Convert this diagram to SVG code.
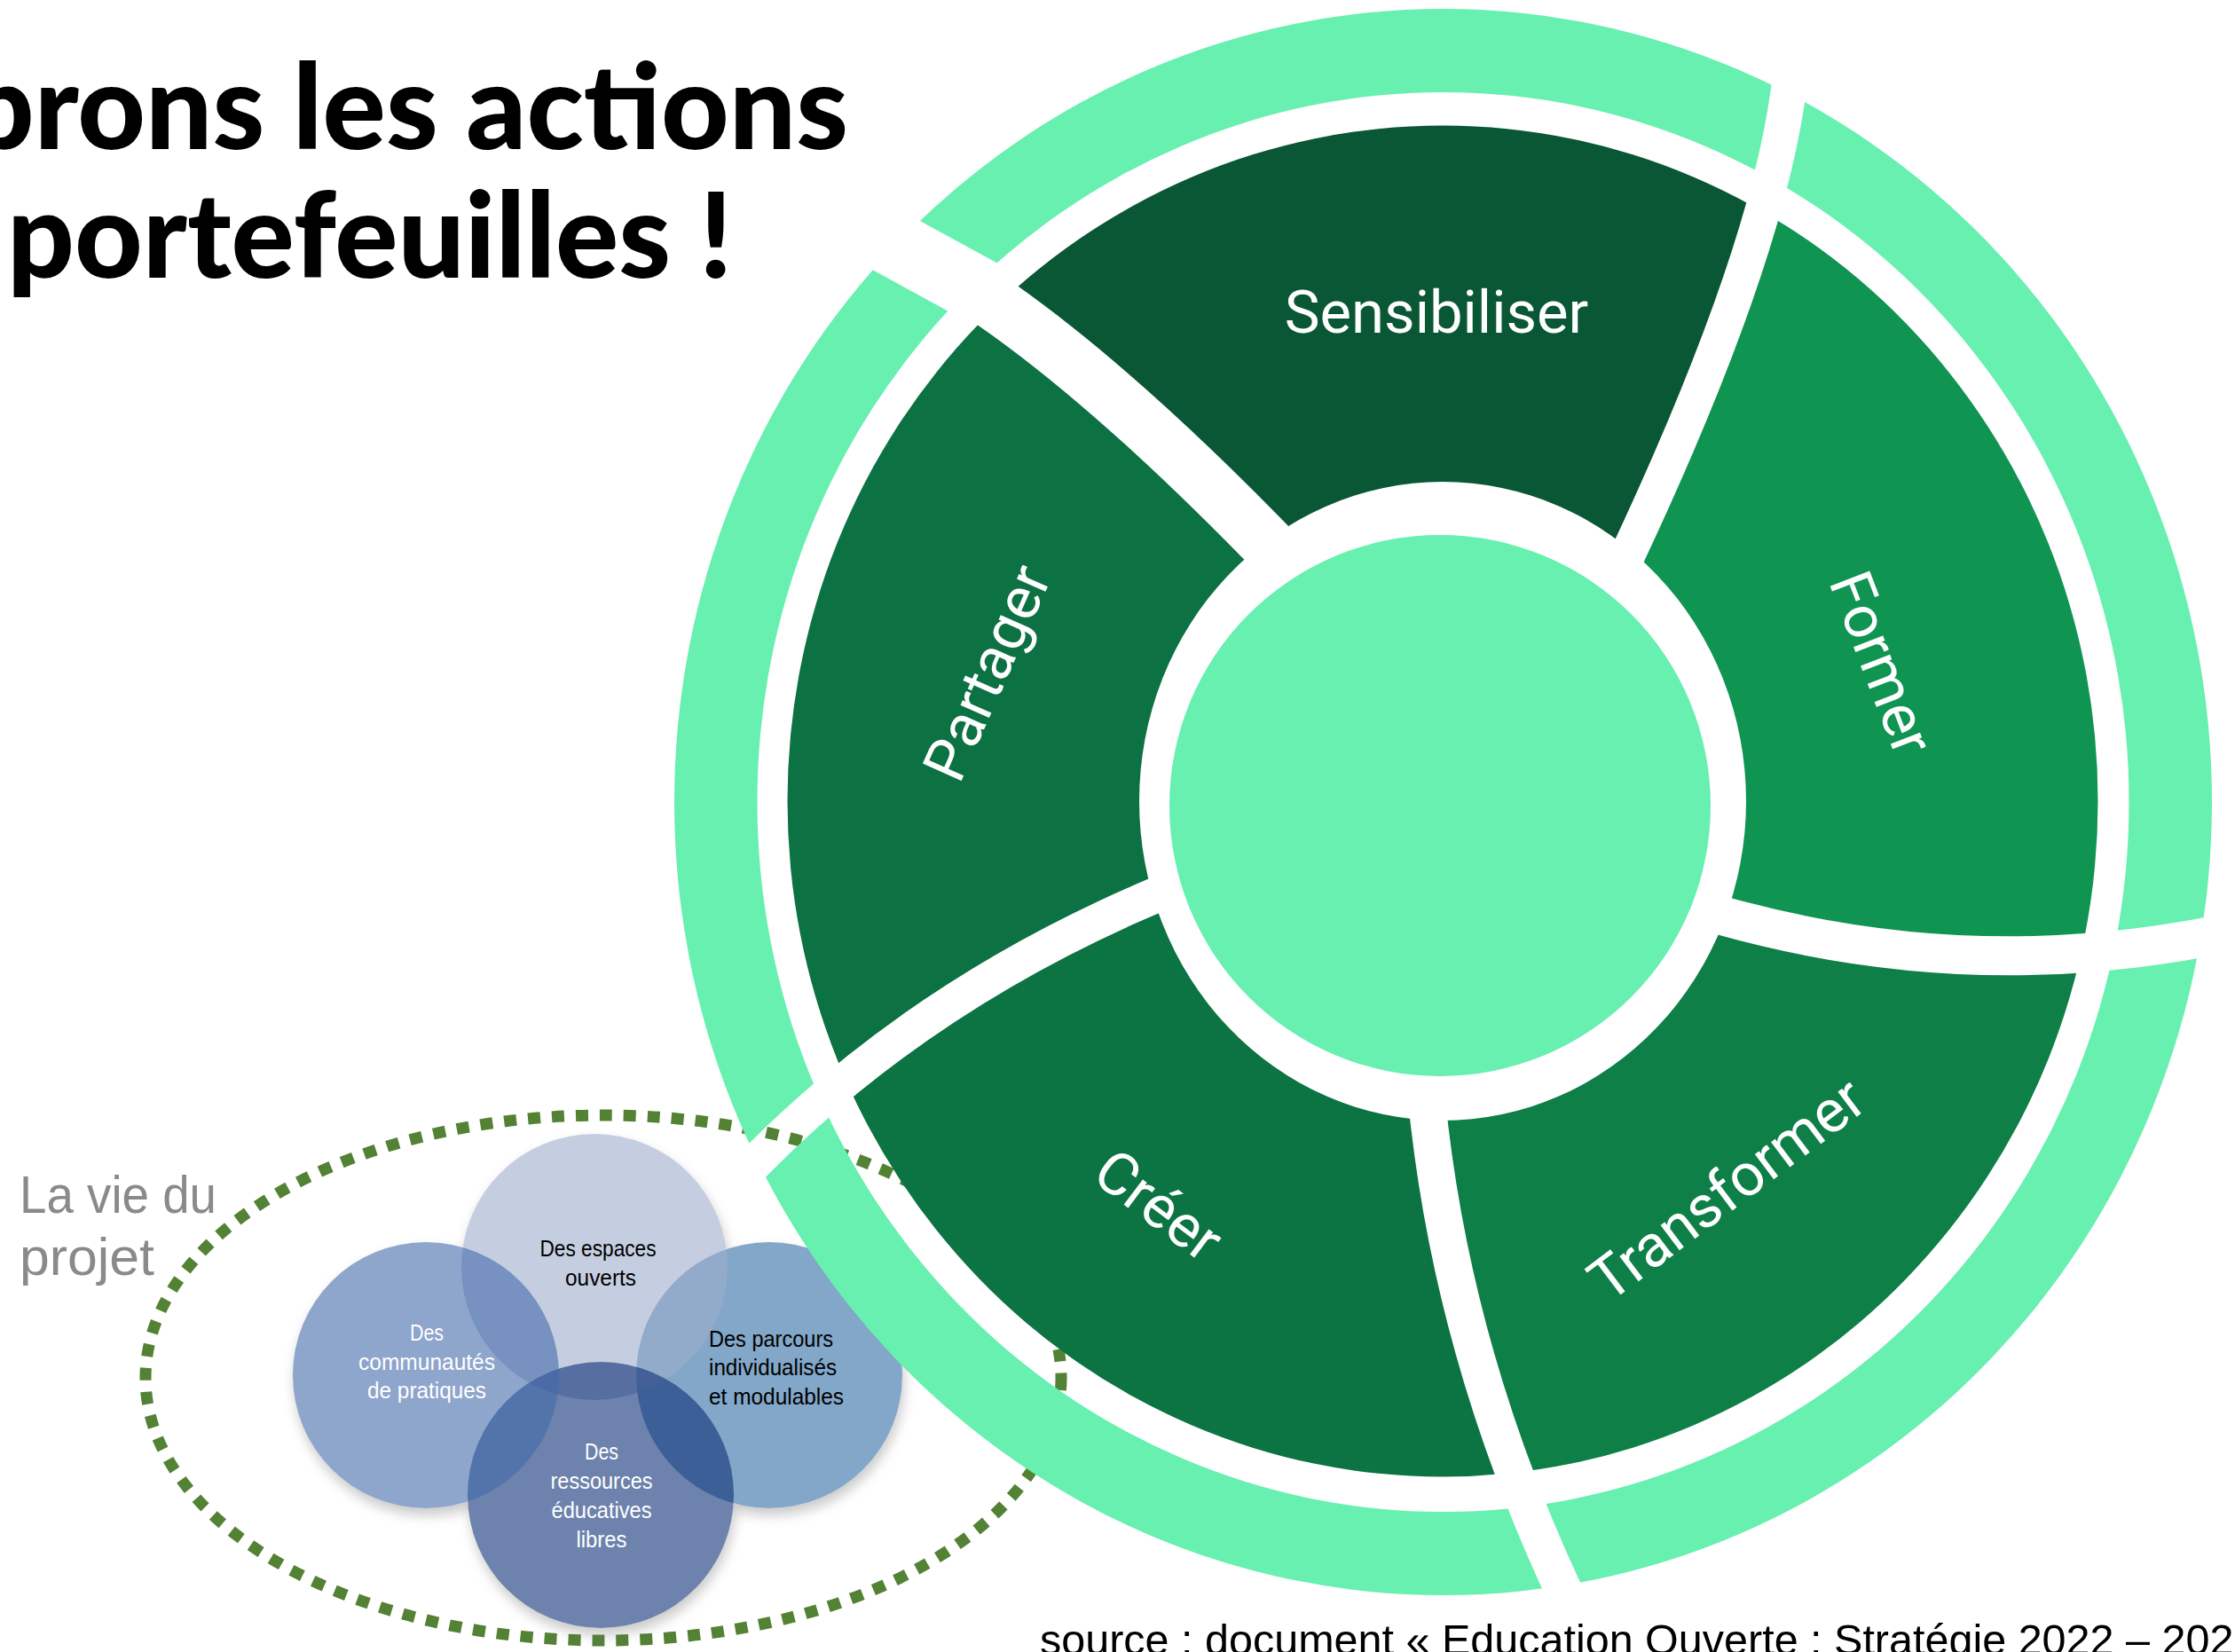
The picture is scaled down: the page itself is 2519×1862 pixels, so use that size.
<svg xmlns="http://www.w3.org/2000/svg" width="2519" height="1862" viewBox="0 0 2519 1862">
<style>
.seg{font-family:Roboto,'Liberation Sans',sans-serif;font-size:67px;fill:#fff;text-anchor:middle}
.title{font-family:Lato,'Liberation Sans',sans-serif;font-weight:900;font-size:133px;fill:#000}
.venn{font-family:'Liberation Sans',sans-serif;font-size:25px;text-anchor:middle}
.vennl{font-family:'Liberation Sans',sans-serif;font-size:25px}
.side{font-family:'Liberation Sans',sans-serif;font-size:60px;fill:#8a8a8a}
.src{font-family:'Liberation Sans',sans-serif;font-size:48.5px;fill:#000}
.gap{fill:none;stroke:#000;stroke-linejoin:round;stroke-linecap:butt}
.light{fill:#67F0B0}
</style>
<defs>
<mask id="gapMask" maskUnits="userSpaceOnUse" x="0" y="0" width="2519" height="1862">
<rect x="0" y="0" width="2519" height="1862" fill="#fff"/>
<path class="gap" stroke-width="40" d="M1815,672 L1835,624 Q2008,255 2020,60 L2025,-40"/>
<path class="gap" stroke-width="44" d="M1900,1020 L1944,1033 Q2250,1118 2560,1040 L2600,1030"/>
<path class="gap" stroke-width="42" d="M1606,1200 L1608,1240 Q1639,1552 1790,1850 L1810,1890"/>
<path class="gap" stroke-width="40" d="M1340,993 L1300,1010 Q1000.6,1137 800,1365 L770,1399"/>
<path class="gap" stroke-width="62" d="M1470,655 L1440,625 Q1174.7,350.7 1000,271 L880,216"/>
<path class="gap" stroke-width="74" d="M1108,330 L1000,271 L880,216"/>
</mask>
<mask id="outsideVenn" maskUnits="userSpaceOnUse" x="0" y="0" width="2519" height="1862">
<rect x="0" y="0" width="2519" height="1862" fill="#fff"/>
<circle cx="867" cy="1550" r="150" fill="#000"/>
<circle cx="670" cy="1428" r="150" fill="#000"/>
<circle cx="677" cy="1685" r="150" fill="#000"/>
<circle cx="480" cy="1550" r="150" fill="#000"/>
</mask>
<filter id="soft" x="-20%" y="-20%" width="140%" height="140%">
<feGaussianBlur stdDeviation="7"/>
</filter>
<clipPath id="darkClip">
<path clip-rule="evenodd" d="M887.5,903 A738.5,761.5 0 1 0 2364.5,903 A738.5,761.5 0 1 0 887.5,903 Z M1284,903 A342,360 0 1 0 1968,903 A342,360 0 1 0 1284,903 Z"/>
</clipPath>
</defs>
<rect width="2519" height="1862" fill="#fff"/>

<g id="title">
<text class="title" x="956" y="168" text-anchor="end">prons les actions</text>
<text class="title" x="8" y="313">portefeuilles !</text>
</g>

<g id="project-life">
<ellipse cx="680" cy="1553" rx="516" ry="296" fill="none" stroke="#548235" stroke-width="13" stroke-dasharray="14 13"/>
<text class="side" x="22" y="1367" textLength="222" lengthAdjust="spacingAndGlyphs">La vie du</text>
<text class="side" x="22" y="1437" textLength="152" lengthAdjust="spacingAndGlyphs">projet</text>
</g>

<g id="venn-shadow" mask="url(#outsideVenn)">
<g filter="url(#soft)" fill="#666" opacity="0.35">
<circle cx="869" cy="1558" r="150"/>
<circle cx="672" cy="1436" r="150"/>
<circle cx="679" cy="1693" r="150"/>
<circle cx="482" cy="1558" r="150"/>
</g>
</g>
<g id="venn-parcours">
<circle cx="867" cy="1550" r="150" fill="#2F6CA5" fill-opacity="0.6"/>
</g>
<g id="venn-espaces">
<circle cx="670" cy="1428" r="150" fill="#9EADCB" fill-opacity="0.6"/>
</g>
<g id="venn-ressources">
<circle cx="677" cy="1685" r="150" fill="#0C2F75" fill-opacity="0.6"/>
</g>
<g id="venn-communautes">
<circle cx="480" cy="1550" r="150" fill="#4369AA" fill-opacity="0.6"/>
</g>
<g id="venn-labels">
<text class="venn" x="674" y="1416" fill="#000" textLength="131" lengthAdjust="spacingAndGlyphs">Des espaces</text>
<text class="venn" x="677" y="1449" fill="#000" textLength="80" lengthAdjust="spacingAndGlyphs">ouverts</text>
<text class="venn" x="481" y="1511" fill="#fff" textLength="38" lengthAdjust="spacingAndGlyphs">Des</text>
<text class="venn" x="481" y="1544" fill="#fff" textLength="154" lengthAdjust="spacingAndGlyphs">communautés</text>
<text class="venn" x="481" y="1576" fill="#fff" textLength="134" lengthAdjust="spacingAndGlyphs">de pratiques</text>
<text class="vennl" x="799" y="1518" fill="#000" textLength="140" lengthAdjust="spacingAndGlyphs">Des parcours</text>
<text class="vennl" x="799" y="1550" fill="#000" textLength="144" lengthAdjust="spacingAndGlyphs">individualisés</text>
<text class="vennl" x="799" y="1583" fill="#000" textLength="152" lengthAdjust="spacingAndGlyphs">et modulables</text>
<text class="venn" x="678" y="1645" fill="#fff" textLength="38" lengthAdjust="spacingAndGlyphs">Des</text>
<text class="venn" x="678" y="1678" fill="#fff" textLength="115" lengthAdjust="spacingAndGlyphs">ressources</text>
<text class="venn" x="678" y="1711" fill="#fff" textLength="113" lengthAdjust="spacingAndGlyphs">éducatives</text>
<text class="venn" x="678" y="1744" fill="#fff" textLength="57" lengthAdjust="spacingAndGlyphs">libres</text>
</g>

<g id="outer-ring">
<path class="light" fill-rule="evenodd" mask="url(#gapMask)" d="M760,904 A866.5,894 0 1 0 2493,904 A866.5,894 0 1 0 760,904 Z M853.5,904 A773,800 0 1 0 2399.5,904 A773,800 0 1 0 853.5,904 Z"/>
</g>

<g id="seg-sensibiliser">
<path fill="#095735" clip-path="url(#darkClip)" mask="url(#gapMask)" d="M1626,903 L1470,655 L1440,625 Q1174.7,350.7 1000,271 L880,216 L880,-200 L2030,-200 L2025,-40 L2020,60 Q2008,255 1835,624 L1815,672 Z"/>
<text class="seg" x="1619" y="375">Sensibiliser</text>
</g>
<g id="seg-former">
<path fill="#0F9452" clip-path="url(#darkClip)" mask="url(#gapMask)" d="M1626,903 L1815,672 L1835,624 Q2008,255 2020,60 L2025,-40 L2030,-200 L2700,-200 L2700,1030 L2600,1030 L2560,1040 Q2250,1118 1944,1033 L1900,1020 Z"/>
<text class="seg" transform="translate(2121,747) rotate(69)" dy="0.35em">Former</text>
</g>
<g id="seg-transformer">
<path fill="#0D7F47" clip-path="url(#darkClip)" mask="url(#gapMask)" d="M1626,903 L1900,1020 L1944,1033 Q2250,1118 2560,1040 L2600,1030 L2700,1030 L2700,2100 L1810,2100 L1810,1890 L1790,1850 Q1639,1552 1608,1240 L1606,1200 Z"/>
<text class="seg" transform="translate(1946,1340) rotate(-37)" dy="0.35em">Transformer</text>
</g>
<g id="seg-creer">
<path fill="#0C7343" clip-path="url(#darkClip)" mask="url(#gapMask)" d="M1626,903 L1606,1200 L1608,1240 Q1639,1552 1790,1850 L1810,1890 L1810,2100 L500,2100 L770,1399 L800,1365 Q1000.6,1137 1300,1010 L1340,993 Z"/>
<text class="seg" transform="translate(1306,1358) rotate(37)" dy="0.35em">Créer</text>
</g>
<g id="seg-partager">
<path fill="#0C7143" clip-path="url(#darkClip)" mask="url(#gapMask)" d="M1626,903 L1340,993 L1300,1010 Q1000.6,1137 800,1365 L770,1399 L400,1500 L400,100 L880,216 L1000,271 Q1174.7,350.7 1440,625 L1470,655 Z"/>
<text class="seg" transform="translate(1112,758) rotate(-66)" dy="0.35em">Partager</text>
</g>

<g id="center">
<circle cx="1623" cy="908" r="305" fill="#67F0B0"/>
</g>

<g id="source">
<text class="src" x="1172" y="1865">source : document « Education Ouverte : Stratégie 2022 – 202</text>
</g>
</svg>
